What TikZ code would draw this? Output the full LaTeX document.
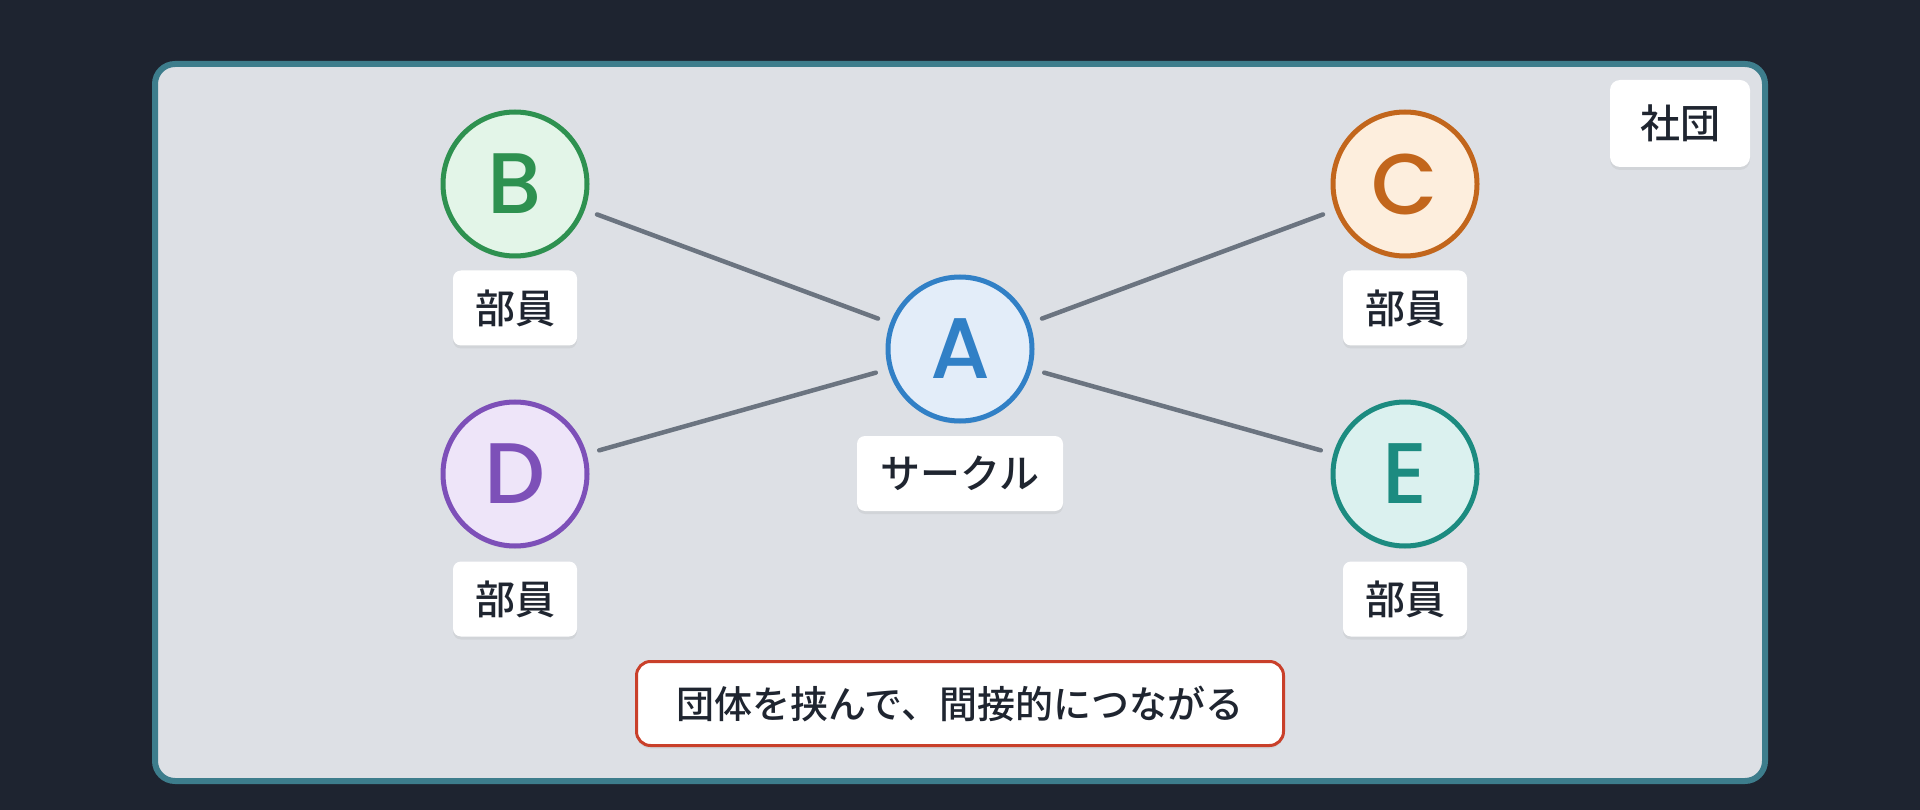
\documentclass[tikz,border=0pt]{standalone}
\usepackage{fontspec}
\setmainfont{Noto Sans CJK JP}
\newfontfamily\medfont{Noto Sans CJK JP Medium}
\newfontfamily\letterfont{Poppins}[UprightFont=* Medium]
\usetikzlibrary{shadows}
\definecolor{bgc}{HTML}{1E2430}
\definecolor{framec}{HTML}{3D7D8C}
\definecolor{framefill}{HTML}{DDE0E5}
\definecolor{linec}{HTML}{6B7480}
\definecolor{textc}{HTML}{1F2530}
\definecolor{Bs}{HTML}{2E9150}\definecolor{Bf}{HTML}{E3F5E8}
\definecolor{As}{HTML}{3180C6}\definecolor{Af}{HTML}{E3EDF9}
\definecolor{Cs}{HTML}{C2661C}\definecolor{Cf}{HTML}{FDEEDD}
\definecolor{Ds}{HTML}{7D50B8}\definecolor{Df}{HTML}{EEE5F9}
\definecolor{Es}{HTML}{1C8B80}\definecolor{Ef}{HTML}{DBF1EF}
\definecolor{notec}{HTML}{C9402A}
\tikzset{
  softshadow/.style={drop shadow={opacity=0.12, shadow xshift=0pt, shadow yshift=-3pt}},
  person/.style={circle, minimum size=144pt, inner sep=0pt, line width=5pt, softshadow,
     font=\fontsize{86}{90}\selectfont\letterfont},
  tag/.style={rectangle, rounded corners=8pt, fill=white, minimum width=124pt, minimum height=75pt,
     inner sep=0pt, text=textc, softshadow, font=\fontsize{40}{48}\selectfont\medfont},
  link/.style={draw=linec, line width=4.5pt, line cap=round, shorten <=13pt, shorten >=13pt}
}
\begin{document}
\begin{tikzpicture}[x=1pt,y=-1pt]
\useasboundingbox (0,0) rectangle (1920,810);
\fill[bgc] (0,0) rectangle (1920,810);
\draw[framec, fill=framefill, line width=6pt, rounded corners=20pt] (155,64) rectangle (1765,781);

\node[person, draw=Bs, fill=Bf, text=Bs] (B) at (515,184) {B};
\node[person, draw=As, fill=Af, text=As] (A) at (960,349) {A};
\node[person, draw=Cs, fill=Cf, text=Cs] (C) at (1405,184) {C};
\node[person, draw=Ds, fill=Df, text=Ds] (D) at (515,474) {D};
\node[person, draw=Es, fill=Ef, text=Es] (E) at (1405,474) {E};

\draw[link] (B) -- (A);
\draw[link] (C) -- (A);
\draw[link] (D) -- (A);
\draw[link] (E) -- (A);

\node[tag] (lB) at (515,308) {部員};
\node[tag] (lC) at (1405,308) {部員};
\node[tag] (lD) at (515,599) {部員};
\node[tag] (lE) at (1405,599) {部員};
\node[tag, minimum width=206pt] (lA) at (960,473.5) {サークル};
\node[tag, minimum width=140pt, minimum height=87pt, rounded corners=10pt] (org) at (1680,123.5) {社団};
\node[tag, draw=notec, line width=3pt, rounded corners=14pt, minimum width=647pt, minimum height=84pt,
      font=\fontsize{38}{46}\selectfont\medfont] (note) at (960,703.5) {団体を挟んで、間接的につながる};
\end{tikzpicture}
\end{document}
